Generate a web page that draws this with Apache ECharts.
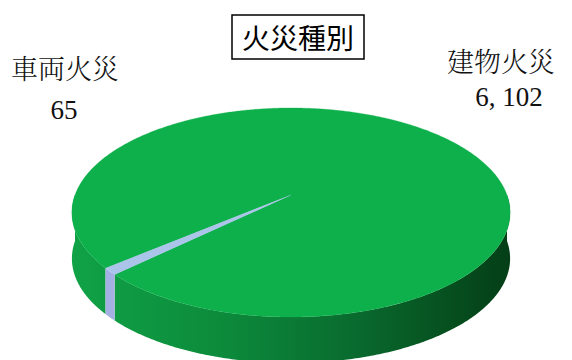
<!DOCTYPE html>
<html>
<head>
<meta charset="utf-8">
<script src="https://cdn.jsdelivr.net/npm/echarts@6/dist/echarts.min.js"></script>
<style>
html,body{margin:0;padding:0;background:#fff;}
#c{width:572px;height:360px;}
</style>
</head>
<body>
<div id="c"></div>
<script>
// ---- data ----
const categories = ['建物火災', '車両火災'];
const values = [6102, 65];
const chartTitle = '火災種別';

// ---- styles / geometry ----
const topColors = ['#0db04b', '#aac4ea'];
const sideColors = [null, '#a4b0e4'];
const CX = 291, CY = 195, A = 216, BY = 101.6, K = 0.1675, T = 46;
const START = 220; // degrees, slices run clockwise (seen from above)

function proj(deg, h) {
  const p = deg * Math.PI / 180;
  const u = Math.cos(p), v = Math.sin(p);
  const w = 1 + K * v;
  return [CX + A * u / w, CY - BY * v / w + h];
}
function arcPts(s, e, h) {
  const pts = [];
  const n = Math.max(2, Math.ceil(Math.abs(e - s) / 0.5));
  for (let i = 0; i <= n; i++) pts.push(proj(s + (e - s) * i / n, h));
  return pts;
}
const total = values.reduce((a, b) => a + b, 0);

function renderItem(params, api) {
  const idx = params.dataIndex;
  let before = 0;
  for (let i = 0; i < idx; i++) before += values[i];
  const a0 = START - before / total * 360;
  const a1 = START - (before + values[idx]) / total * 360;
  const lo = Math.min(a0, a1), hi = Math.max(a0, a1);
  const children = [];
  for (let n = -2; n <= 2; n++) {
    const fs = 180 + 360 * n, fe = 360 + 360 * n;
    const s = Math.max(lo, fs), e = Math.min(hi, fe);
    if (e > s) {
      const topArc = arcPts(s, e, 0);
      const botArc = arcPts(e, s, T);
      const fill = sideColors[idx] || {
        type: 'linear', x: 72, y: 0, x2: 512, y2: 0, global: true,
        colorStops: [
          { offset: 0, color: '#10a246' },
          { offset: 0.35, color: '#0c8a3b' },
          { offset: 0.65, color: '#096a2e' },
          { offset: 0.85, color: '#06501f' },
          { offset: 1, color: '#043e17' }
        ]
      };
      children.push({
        type: 'polygon', z2: 1,
        shape: { points: topArc.concat(botArc) },
        style: { fill: fill, stroke: null }
      });
    }
  }
  const topPts = [[CX, CY]].concat(arcPts(lo, hi, 0));
  children.push({
    type: 'polygon', z2: 10,
    shape: { points: topPts },
    style: { fill: topColors[idx], stroke: topColors[idx], lineWidth: 0.3 }
  });
  return { type: 'group', children: children };
}

function fmt(v) {
  return v.toLocaleString('en-US').replace(/,/g, ', ');
}

const labelFont = '"Noto Serif CJK JP", "Noto Sans CJK JP"';
const numFont = '"Liberation Serif", "DejaVu Serif", serif';
const labelPos = [
  { name: [501, 60], value: [509, 97] },
  { name: [65, 67], value: [64, 110] }
];

const chart = echarts.init(document.getElementById('c'), null, { renderer: 'svg' });
const graphics = [];
categories.forEach((c, i) => {
  graphics.push({
    type: 'text', x: labelPos[i].name[0], y: labelPos[i].name[1],
    style: { text: c, font: '300 27px ' + labelFont, fill: '#111', textAlign: 'center', textVerticalAlign: 'middle' }
  });
  graphics.push({
    type: 'text', x: labelPos[i].value[0], y: labelPos[i].value[1],
    style: { text: fmt(values[i]), font: '27px ' + numFont, fill: '#111', textAlign: 'center', textVerticalAlign: 'middle' }
  });
});

chart.setOption({
  animation: false,
  backgroundColor: '#fff',
  title: {
    text: chartTitle, left: 232, top: 15,
    borderColor: '#000', borderWidth: 1.5,
    padding: [7, 10, 7, 10],
    textStyle: { fontFamily: 'Noto Sans CJK JP', fontSize: 28, fontWeight: 'normal', color: '#000', lineHeight: 30 }
  },
  series: [{
    type: 'custom',
    coordinateSystem: 'none',
    renderItem: renderItem,
    data: categories.map((c, i) => ({ name: c, value: values[i] }))
  }],
  graphic: graphics
});
</script>
</body>
</html>
